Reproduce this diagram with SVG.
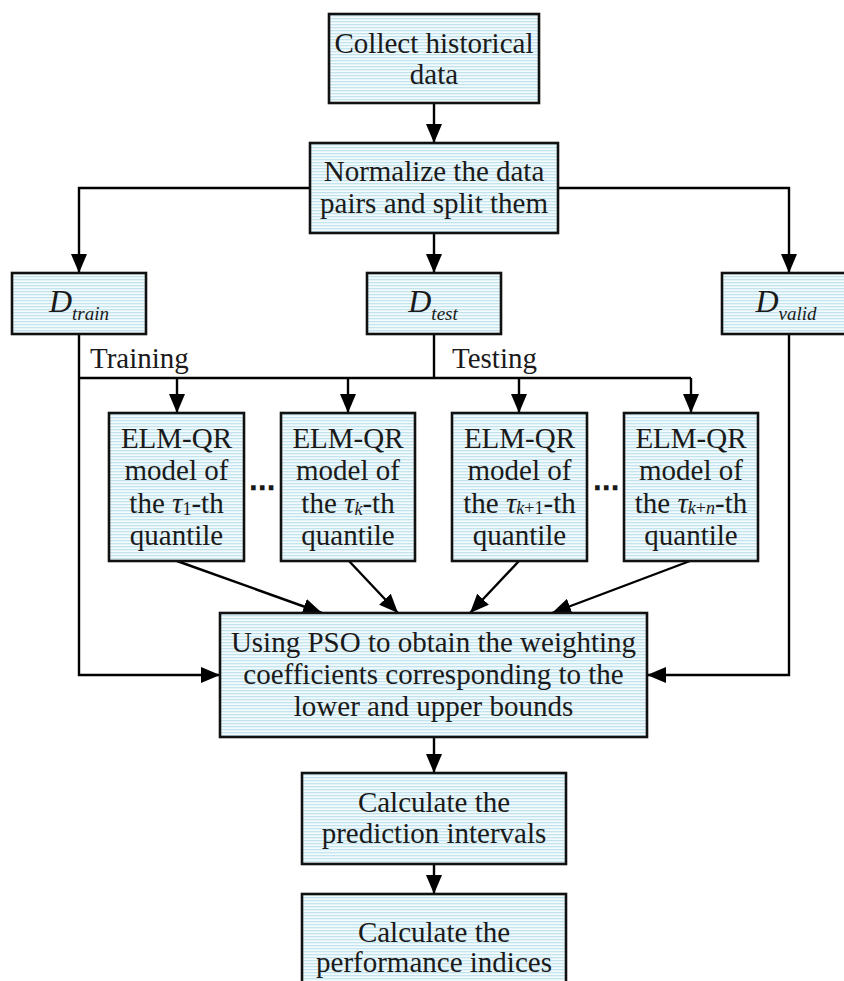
<svg xmlns="http://www.w3.org/2000/svg" width="844" height="981" viewBox="0 0 844 981">
<defs>
<pattern id="stripes" width="6" height="3" patternUnits="userSpaceOnUse">
<rect width="6" height="3" fill="#f4fbfd"/>
<rect y="0" width="6" height="1.3" fill="#c3e4ef"/>
</pattern>
<marker id="arr" markerUnits="userSpaceOnUse" markerWidth="20" markerHeight="16" viewBox="0 0 20 16" refX="19" refY="8" orient="auto">
<path d="M0,0 L19,8 L0,16 Z" fill="#000"/>
</marker>
<style>
.box{fill:url(#stripes);stroke:#111;stroke-width:2.6}
.t{font-family:"Liberation Serif","DejaVu Serif",serif;font-size:29px;fill:#1a1a1a;text-anchor:middle}
.l{font-family:"Liberation Serif","DejaVu Serif",serif;font-size:29px;fill:#1a1a1a}
.c{fill:none;stroke:#000;stroke-width:2.4}
.ca{fill:none;stroke:#000;stroke-width:2.4;marker-end:url(#arr)}
.i{font-style:italic}
.dots{font-family:"DejaVu Sans",sans-serif;font-size:26px;font-weight:bold;fill:#1a1a1a;text-anchor:middle}
</style>
</defs>

<g id="connectors">
<path class="ca" d="M434,103 V143"/>
<path class="ca" d="M310,188 H79 V273"/>
<path class="ca" d="M434,233 V273"/>
<path class="ca" d="M558,188 H789 V273"/>
<path class="ca" d="M79,334 V675 H220"/>
<path class="c" d="M434,334 V378"/>
<path class="c" d="M79,378 H691"/>
<path class="ca" d="M177,378 V413"/>
<path class="ca" d="M348,378 V413"/>
<path class="ca" d="M519,378 V413"/>
<path class="ca" d="M691,378 V413"/>
<path class="ca" d="M789,334 V675 H647"/>
<path class="ca" d="M177,561 L322,613"/>
<path class="ca" d="M349,561 L398,613"/>
<path class="ca" d="M519,561 L470,613"/>
<path class="ca" d="M690,561 L552,613"/>
<path class="ca" d="M434,737 V773"/>
<path class="ca" d="M434,864 V894"/>
<text class="l" x="90" y="368">Training</text>
<text class="l" x="452" y="368">Testing</text>
</g>

<g id="collect">
<rect class="box" x="329" y="14" width="210" height="89"/>
<text class="t" x="434" y="53">Collect historical</text>
<text class="t" x="434" y="84">data</text>
</g>

<g id="normalize">
<rect class="box" x="310" y="143" width="248" height="90"/>
<text class="t" x="434" y="181">Normalize the data</text>
<text class="t" x="434" y="213">pairs and split them</text>
</g>

<g id="dtrain">
<rect class="box" x="12" y="273" width="134" height="61"/>
<text class="t" x="79" y="312"><tspan class="i" font-size="32">D</tspan><tspan class="i" font-size="19" dy="8">train</tspan></text>
</g>

<g id="dtest">
<rect class="box" x="367" y="273" width="134" height="61"/>
<text class="t" x="433" y="312"><tspan class="i" font-size="32">D</tspan><tspan class="i" font-size="19" dy="8">test</tspan></text>
</g>

<g id="dvalid">
<rect class="box" x="722" y="273" width="134" height="61"/>
<text class="t" x="786" y="312"><tspan class="i" font-size="32">D</tspan><tspan class="i" font-size="19" dy="8">valid</tspan></text>
</g>

<g id="elm1">
<rect class="box" x="109" y="413" width="135" height="148"/>
<text class="t" x="176.5" y="448">ELM-QR</text>
<text class="t" x="176.5" y="480">model of</text>
<text class="t" x="176.5" y="513">the <tspan class="i">τ</tspan><tspan font-size="18" dy="2">1</tspan><tspan dy="-2">-th</tspan></text>
<text class="t" x="176.5" y="545">quantile</text>
</g>

<g id="dots1"><text class="dots" x="262" y="497">⋯</text></g>

<g id="elm2">
<rect class="box" x="281" y="413" width="134" height="148"/>
<text class="t" x="348" y="448">ELM-QR</text>
<text class="t" x="348" y="480">model of</text>
<text class="t" x="348" y="513">the <tspan class="i">τ</tspan><tspan class="i" font-size="18" dy="2">k</tspan><tspan dy="-2">-th</tspan></text>
<text class="t" x="348" y="545">quantile</text>
</g>

<g id="elm3">
<rect class="box" x="452" y="413" width="135" height="148"/>
<text class="t" x="519.5" y="448">ELM-QR</text>
<text class="t" x="519.5" y="480">model of</text>
<text class="t" x="519.5" y="513">the <tspan class="i">τ</tspan><tspan font-size="18" dy="1"><tspan class="i">k</tspan>+1</tspan><tspan dy="-1">-th</tspan></text>
<text class="t" x="519.5" y="545">quantile</text>
</g>

<g id="dots2"><text class="dots" x="606" y="497">⋯</text></g>

<g id="elm4">
<rect class="box" x="624" y="413" width="134" height="148"/>
<text class="t" x="691" y="448">ELM-QR</text>
<text class="t" x="691" y="480">model of</text>
<text class="t" x="691" y="513">the <tspan class="i">τ</tspan><tspan font-size="18" dy="1"><tspan class="i">k</tspan>+<tspan class="i">n</tspan></tspan><tspan dy="-1">-th</tspan></text>
<text class="t" x="691" y="545">quantile</text>
</g>

<g id="pso">
<rect class="box" x="220" y="613" width="427" height="124"/>
<text class="t" x="433.5" y="652">Using PSO to obtain the weighting</text>
<text class="t" x="433.5" y="684">coefficients corresponding to the</text>
<text class="t" x="433.5" y="716">lower and upper bounds</text>
</g>

<g id="calc1">
<rect class="box" x="302" y="773" width="264" height="91"/>
<text class="t" x="434" y="812">Calculate the</text>
<text class="t" x="434" y="843">prediction intervals</text>
</g>

<g id="calc2">
<rect class="box" x="302" y="894" width="264" height="95"/>
<text class="t" x="434" y="942">Calculate the</text>
<text class="t" x="434" y="972">performance indices</text>
</g>
</svg>
